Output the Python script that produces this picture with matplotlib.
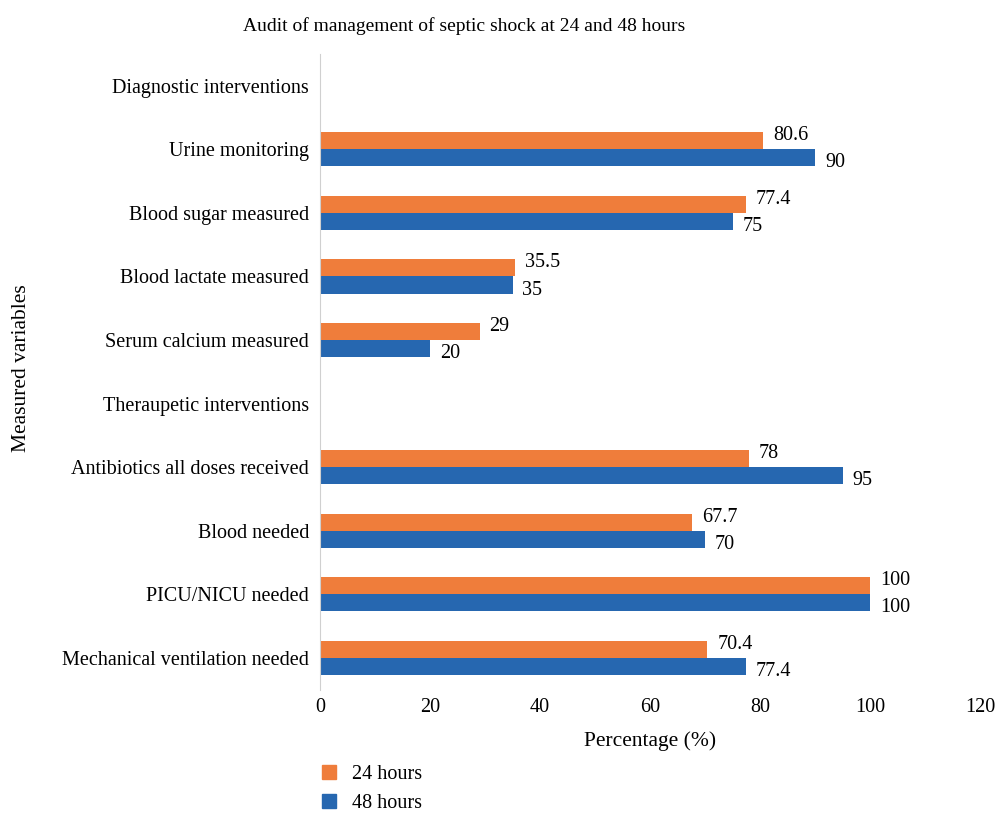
import numpy as np
import matplotlib.pyplot as plt
from matplotlib.patches import Patch

plt.rcParams['font.family'] = ['Liberation Serif', 'DejaVu Serif']

categories = ["Diagnostic interventions", "Urine monitoring", "Blood sugar measured",
              "Blood lactate measured", "Serum calcium measured", "Theraupetic interventions",
              "Antibiotics all doses received", "Blood needed", "PICU/NICU needed",
              "Mechanical ventilation needed"]
h24 = [None, 80.6, 77.4, 35.5, 29, None, 78, 67.7, 100, 70.4]
h48 = [None, 90, 75, 35, 20, None, 95, 70, 100, 77.4]

orange = "#ef7d3b"
blue = "#2667b0"

fig = plt.figure(figsize=(9.97, 8.18), dpi=100)
ax = fig.add_axes([0.321, 0.157, 0.662, 0.777])

y = np.arange(len(categories))
bh = 0.27
for i in range(len(categories)):
    if h24[i] is not None:
        ax.barh(y[i] - bh / 2, h24[i], height=bh, color=orange)
        ax.text(h24[i] + 1.8, y[i] - bh / 2 - 0.08, f"{h24[i]:g}", va="center", ha="left", fontsize=14.5)
    if h48[i] is not None:
        ax.barh(y[i] + bh / 2, h48[i], height=bh, color=blue)
        ax.text(h48[i] + 1.8, y[i] + bh / 2 + 0.08, f"{h48[i]:g}", va="center", ha="left", fontsize=14.5)

ax.set_yticks(y)
ax.set_yticklabels(categories, fontsize=14.5)
ax.set_ylim(len(categories) - 0.5, -0.5)
ax.set_xlim(0, 120)
ax.set_xticks(range(0, 121, 20))
ax.tick_params(axis='x', labelsize=14.5, length=0, pad=6)
ax.tick_params(axis='y', length=0, pad=8)
for s in ["top", "right", "bottom"]:
    ax.spines[s].set_visible(False)
ax.spines["left"].set_color("#d0d0d0")

ax.set_xlabel("Percentage (%)", fontsize=15.5, labelpad=10)
fig.text(0.022, 0.55, "Measured variables", rotation=90, va="center", ha="center", fontsize=15.5)
fig.text(0.466, 0.968, "Audit of management of septic shock at 24 and 48 hours", ha="center", va="center", fontsize=14)

handles = [Patch(color=orange, label="24 hours"), Patch(color=blue, label="48 hours")]
fig.legend(handles=handles, loc="lower left", bbox_to_anchor=(0.305, -0.016), frameon=False,
           fontsize=14.5, handlelength=0.7, handleheight=0.7, labelspacing=0.5)

fig.savefig("out.png", dpi=100)
